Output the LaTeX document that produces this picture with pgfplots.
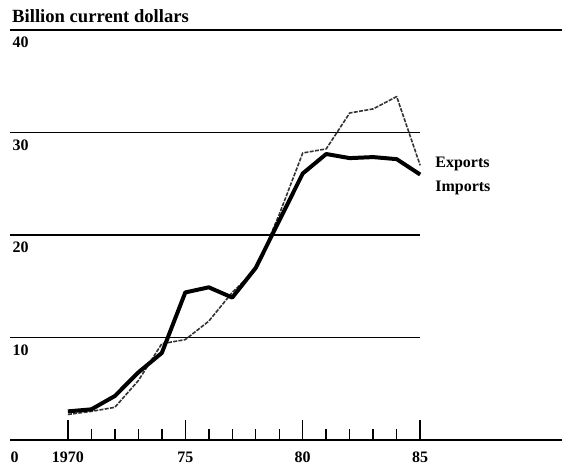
\documentclass[border=0pt]{standalone}
\usepackage{pgfplots}
\pgfplotsset{compat=1.18}
\usepackage{fontspec}
\setmainfont{Liberation Serif}
\begin{document}
\begin{tikzpicture}
\begin{axis}[
  x=17.65pt, y=7.706pt,
  xmin=1967.54, xmax=1991.04, ymin=0, ymax=40,
  enlargelimits=false, clip=false,
  axis x line*=bottom, axis y line=none,
  axis line style={-, line width=1.5pt},
  xtick={1970,1975,1980,1985}, xticklabels={1970,75,80,85},
  minor xtick={1971,1972,1973,1974,1976,1977,1978,1979,1981,1982,1983,1984},
  tick align=inside, major tick length=15pt, minor tick length=8pt,
  every tick/.style={black, line width=1.1pt},
  xticklabel style={font=\fontsize{12}{14}\selectfont\bfseries, anchor=base, yshift=-16.5pt},
  /pgf/number format/assume math mode=true,
  ytick=\empty,
]
% picture frame (invisible)
\path (axis cs:1967.11,-2.725) rectangle (axis cs:1991.04,42.92);
% gridlines
\addplot[black, line width=1.4pt] coordinates {(1967.54,40) (1991.04,40)};
\addplot[black, line width=1pt] coordinates {(1967.54,30) (1985,30)};
\addplot[black, line width=1pt] coordinates {(1967.54,20) (1985,20)};
\addplot[black, line width=1pt] coordinates {(1967.54,10) (1985,10)};
% exports (thin dashed)
\addplot[black!80, line width=1.2pt, dash pattern=on 3pt off 1pt, line join=round] coordinates {
(1970,2.5) (1971,2.8) (1972,3.2) (1973,5.8) (1974,9.4) (1975,9.8) (1976,11.6) (1977,14.4)
(1978,16.6) (1979,22.0) (1980,28.0) (1981,28.4) (1982,31.9) (1983,32.3) (1984,33.5) (1985,26.8)};
% imports (thick)
\addplot[black, line width=3pt, line join=round] coordinates {
(1970,2.8) (1971,3.0) (1972,4.3) (1973,6.6) (1974,8.5) (1975,14.4) (1976,14.9) (1977,13.9)
(1978,16.8) (1979,21.4) (1980,26.0) (1981,27.9) (1982,27.5) (1983,27.6) (1984,27.4) (1985,25.9)};
% texts
\node[anchor=base west, inner sep=0pt, font=\fontsize{14}{16}\selectfont\bfseries] at (axis cs:1967.62,40.68) {Billion current dollars};
\node[anchor=base west, inner sep=0pt, font=\fontsize{12}{14}\selectfont\bfseries] at (axis cs:1967.64,38.25) {40};
\node[anchor=base west, inner sep=0pt, font=\fontsize{12}{14}\selectfont\bfseries] at (axis cs:1967.64,28.25) {30};
\node[anchor=base west, inner sep=0pt, font=\fontsize{12}{14}\selectfont\bfseries] at (axis cs:1967.64,18.25) {20};
\node[anchor=base west, inner sep=0pt, font=\fontsize{12}{14}\selectfont\bfseries] at (axis cs:1967.64,8.25) {10};
\node[anchor=base, inner sep=0pt, font=\fontsize{12}{14}\selectfont\bfseries] at (axis cs:1967.73,-2.14) {0};
\node[anchor=base west, inner sep=0pt, font=\fontsize{12}{14}\selectfont\bfseries] at (axis cs:1985.64,26.57) {Exports};
\node[anchor=base west, inner sep=0pt, font=\fontsize{12}{14}\selectfont\bfseries] at (axis cs:1985.64,24.23) {Imports};
\end{axis}
\end{tikzpicture}
\end{document}
